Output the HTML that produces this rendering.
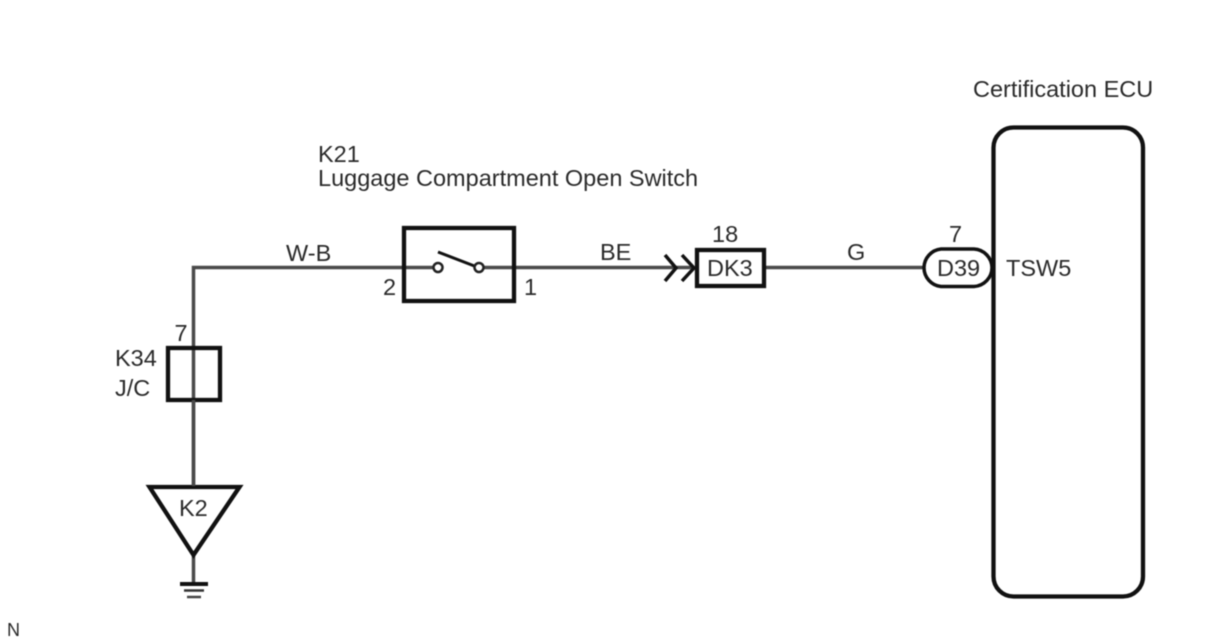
<!DOCTYPE html>
<html><head><meta charset="utf-8"><style>html,body{margin:0;padding:0;background:#fff}svg{display:block;filter:blur(.4px)}text{font-family:"Liberation Sans",sans-serif;font-size:23.5px;fill:#2a2a2a}</style></head><body>
<svg width="1208" height="644" viewBox="0 0 1208 644" xmlns="http://www.w3.org/2000/svg">
<g fill="none" stroke="#4a4a4a" stroke-width="3.5">
<path d="M404 267.500H193.500V486"/>
<path d="M514 267.500H692"/>
<path d="M765 267.500H924"/>
<path d="M404 267.500H434M483 267.500H514"/>
<path d="M193.500 555V584"/>
</g>
<g fill="none" stroke="#111" stroke-width="4.300">
<rect x="404" y="228" width="110" height="73"/>
<rect x="168" y="348" width="52" height="52"/>
<rect x="697" y="250" width="67" height="36"/>
<rect x="993.500" y="127.500" width="149.500" height="469" rx="20"/>
<path d="M924 267.500A19 19 0 0 1 941 249H974A19 19 0 0 1 992 267.500A19 19 0 0 1 974 286.500H941A19 19 0 0 1 924 267.500Z" fill="#fff" stroke-width="3.500"/>
<path d="M149.500 487H239.500L193.500 555Z" stroke-linejoin="miter"/>
<path d="M665 255L676 268L665 281M682 255L694 268L682 281" stroke-width="3.500"/>
<path d="M438 252L477 267" stroke-width="3"/>
<path d="M180 584H208" stroke-width="4"/>
<path d="M184 590.500H204" stroke-width="2.500" stroke="#333"/>
<path d="M187 597H201" stroke-width="2.500" stroke="#444"/>
</g>
<path d="M193.500 400V486" stroke="#4a4a4a" stroke-width="3.500"/>
<circle cx="438" cy="267.500" r="4.500" fill="#fff" stroke="#222" stroke-width="2.500"/>
<circle cx="479" cy="267.500" r="4.500" fill="#fff" stroke="#222" stroke-width="2.500"/>
<text x="973" y="97">Certification ECU</text>
<text x="318" y="162">K21</text>
<text x="318" y="186">Luggage Compartment Open Switch</text>
<text x="286" y="261">W-B</text>
<text x="600" y="260">BE</text>
<text x="847" y="260">G</text>
<text x="712" y="242">18</text>
<text x="949" y="242">7</text>
<text x="707" y="276">DK3</text>
<text x="937" y="276">D39</text>
<text x="1006" y="276">TSW5</text>
<text x="383" y="295">2</text>
<text x="524" y="295">1</text>
<text x="174.500" y="341">7</text>
<text x="115" y="366">K34</text>
<text x="115" y="396">J/C</text>
<text x="179" y="516">K2</text>
<text x="7" y="636" style="font-size:18px">N</text>
</svg>
</body></html>
